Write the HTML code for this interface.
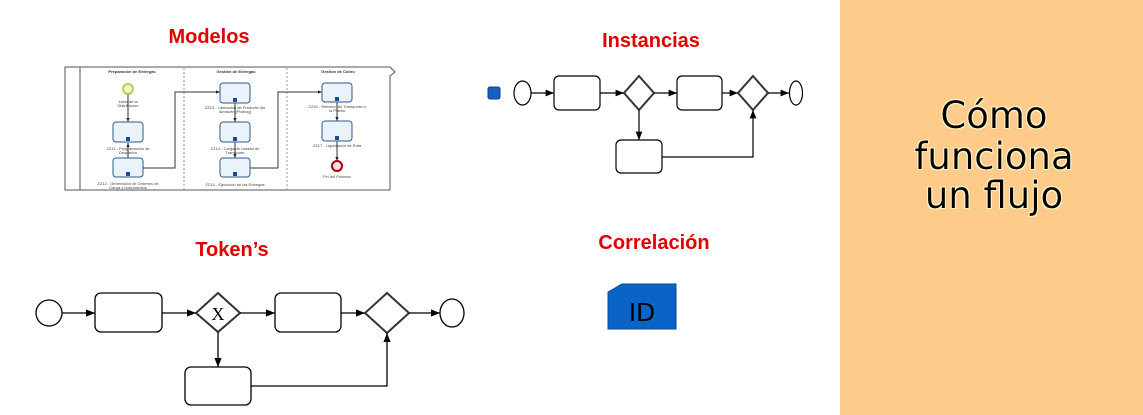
<!DOCTYPE html>
<html><head><meta charset="utf-8"><style>
html,body{margin:0;padding:0;background:#fff;}
svg{display:block;}
</style></head><body>
<svg width="1143" height="415" viewBox="0 0 1143 415" xmlns="http://www.w3.org/2000/svg">
<defs>
<marker id="a" viewBox="0 0 10 10" refX="10" refY="5" markerWidth="7" markerHeight="7" orient="auto"><path d="M0,1 L10,5 L0,9 z" fill="#000"/></marker>
<marker id="s" viewBox="0 0 10 10" refX="10" refY="5" markerWidth="4" markerHeight="4" orient="auto"><path d="M0,1 L10,5 L0,9 z" fill="#222"/></marker>
<filter id="glow"><feMorphology operator="dilate" radius="1.2" in="SourceAlpha" result="d"/><feFlood flood-color="#fff6c8"/><feComposite in2="d" operator="in" result="g"/><feMerge><feMergeNode in="g"/><feMergeNode in="SourceGraphic"/></feMerge></filter>
</defs>
<rect x="840" y="0" width="303" height="415" fill="#FFCB8A"/>
<g font-family="DejaVu Sans, Verdana, sans-serif" font-size="37" text-anchor="middle" fill="#000" filter="url(#glow)">
<text x="994" y="128">Cómo</text>
<text x="994" y="169">funciona</text>
<text x="994" y="208">un flujo</text>
</g>
<g font-family="Liberation Sans, sans-serif" font-weight="bold" font-size="20" fill="#E00000" text-anchor="middle">
<text x="209" y="43">Modelos</text>
<text x="651" y="47">Instancias</text>
<text x="232" y="256">Token’s</text>
<text x="654" y="249">Correlación</text>
</g>
<!-- Modelos -->
<g stroke="#555" fill="none" stroke-width="1">
<path d="M65,67 H390 L395,72 L390,76 V190 H65 Z" fill="#fff"/>
<line x1="80" y1="67" x2="80" y2="190"/>
<line x1="184" y1="68" x2="184" y2="190" stroke-dasharray="2,2" stroke="#999"/>
<line x1="287" y1="68" x2="287" y2="190" stroke-dasharray="2,2" stroke="#999"/>
</g>
<g font-family="Liberation Sans, sans-serif" font-size="4" fill="#333" text-anchor="middle" font-weight="bold">
<text x="132" y="73">Preparación de Entregas</text>
<text x="236" y="73">Gestión de Entregas</text>
<text x="338" y="73">Gestión de Cobro</text>
</g>
<g stroke="#333" stroke-width="1" fill="none" marker-end="url(#s)">
<line x1="128" y1="94" x2="128" y2="122"/>
<line x1="128" y1="158" x2="128" y2="143"/>
<polyline points="143,168 175,168 175,92 220,92"/>
<line x1="235" y1="103" x2="235" y2="122"/>
<line x1="235" y1="142" x2="235" y2="158"/>
<polyline points="250,168 278,168 278,92 322,92"/>
<line x1="337" y1="102" x2="337" y2="121"/>
<line x1="337" y1="141" x2="337" y2="161"/>
</g>
<circle cx="128" cy="89" r="5" fill="#eef7c0" stroke="#9c3" stroke-width="1.5"/>
<circle cx="337" cy="166" r="5" fill="#fde" stroke="#a00" stroke-width="2"/>
<g fill="#eaf3fb" stroke="#2a5a8a" stroke-width="1">
<rect x="113" y="122" width="30" height="20" rx="3"/>
<rect x="113" y="158" width="30" height="19" rx="3"/>
<rect x="220" y="83" width="30" height="20" rx="3"/>
<rect x="220" y="122" width="30" height="20" rx="3"/>
<rect x="220" y="158" width="30" height="19" rx="3"/>
<rect x="322" y="83" width="30" height="19" rx="3"/>
<rect x="322" y="121" width="30" height="20" rx="3"/>
</g>
<g fill="#1a4a9a"><rect x="126" y="137" width="4" height="4"/><rect x="126" y="172" width="4" height="4"/><rect x="233" y="98" width="4" height="4"/><rect x="233" y="137" width="4" height="4"/><rect x="233" y="172" width="4" height="4"/><rect x="335" y="97" width="4" height="4"/><rect x="335" y="136" width="4" height="4"/></g>
<g font-family="Liberation Sans, sans-serif" font-size="4" fill="#444" text-anchor="middle">
<text x="128" y="103">Inicio de la</text><text x="128" y="107">Distribución</text>
<text x="128" y="150">ZZ11 - Programación de</text><text x="128" y="154">Despacho</text>
<text x="128" y="185">ZZ12 - Generación de Ordenes de</text><text x="128" y="189">Carga y Documentos</text>
<text x="235" y="109">ZZ13 - Liberación de Producto del</text><text x="235" y="113">Almacén (Picking)</text>
<text x="235" y="150">ZZ14 - Carga de Unidad de</text><text x="235" y="154">Transporte</text>
<text x="235" y="186">ZZ15 - Ejecución de las Entregas</text>
<text x="337" y="108">ZZ16 - Retorno del Transporte a</text><text x="337" y="112">la Planta</text>
<text x="337" y="147">ZZ17 - Liquidación de Ruta</text>
<text x="337" y="178">Fin del Proceso</text>
</g>
<!-- Instancias -->
<rect x="488" y="87" width="12" height="12" rx="2" fill="#1560c0" stroke="#0d3f8a"/>
<g stroke="#000" stroke-width="1.2" fill="none">
<ellipse cx="522.5" cy="93" rx="8.5" ry="12" fill="#fff"/>
<rect x="554" y="76" width="46" height="34" rx="5" fill="#fff"/>
<path d="M639,76 L654,93 L639,110 L624,93 Z" fill="#fff" stroke-width="2" stroke="#333"/>
<rect x="677" y="76" width="45" height="34" rx="5" fill="#fff"/>
<path d="M753,76 L768,93 L753,110 L738,93 Z" fill="#fff" stroke-width="2" stroke="#333"/>
<ellipse cx="796" cy="93" rx="6.5" ry="12" fill="#fff"/>
<rect x="616" y="140" width="46" height="33" rx="5" fill="#fff"/>
<line x1="531" y1="93" x2="554" y2="93" marker-end="url(#a)"/>
<line x1="600" y1="93" x2="624" y2="93" marker-end="url(#a)"/>
<line x1="654" y1="93" x2="677" y2="93" marker-end="url(#a)"/>
<line x1="722" y1="93" x2="738" y2="93" marker-end="url(#a)"/>
<line x1="768" y1="93" x2="789" y2="93" marker-end="url(#a)"/>
<line x1="639" y1="110" x2="639" y2="140" marker-end="url(#a)"/>
<polyline points="662,157 753,157 753,110" marker-end="url(#a)"/>
</g>
<!-- Token's -->
<g stroke="#000" stroke-width="1.3" fill="none">
<circle cx="49" cy="313" r="13" fill="#fff"/>
<rect x="95" y="293" width="67" height="39" rx="6" fill="#fff"/>
<path d="M218,293 L240,313 L218,332 L196,313 Z" fill="#fff" stroke-width="2" stroke="#333"/>
<rect x="275" y="293" width="66" height="39" rx="6" fill="#fff"/>
<path d="M387,293 L409,313 L387,333 L365,313 Z" fill="#fff" stroke-width="2" stroke="#333"/>
<ellipse cx="452" cy="313" rx="12" ry="14" fill="#fff"/>
<rect x="185" y="367" width="66" height="38" rx="6" fill="#fff"/>
<line x1="62" y1="313" x2="95" y2="313" marker-end="url(#a)"/>
<line x1="162" y1="313" x2="196" y2="313" marker-end="url(#a)"/>
<line x1="240" y1="313" x2="275" y2="313" marker-end="url(#a)"/>
<line x1="341" y1="313" x2="365" y2="313" marker-end="url(#a)"/>
<line x1="409" y1="313" x2="440" y2="313" marker-end="url(#a)"/>
<line x1="218" y1="332" x2="218" y2="367" marker-end="url(#a)"/>
<polyline points="251,386 387,386 387,333" marker-end="url(#a)"/>
</g>
<text x="218" y="320" font-family="Liberation Serif, serif" font-size="18" text-anchor="middle" fill="#000">X</text>
<!-- Correlación -->
<path d="M608,292 L622,284 L676,284 L676,329 L608,329 Z" fill="#0a64c8" stroke="#0a4a9a" stroke-width="1"/>
<text x="642" y="321" font-family="DejaVu Sans, sans-serif" font-size="25" text-anchor="middle" fill="#000">ID</text>
</svg>
</body></html>
